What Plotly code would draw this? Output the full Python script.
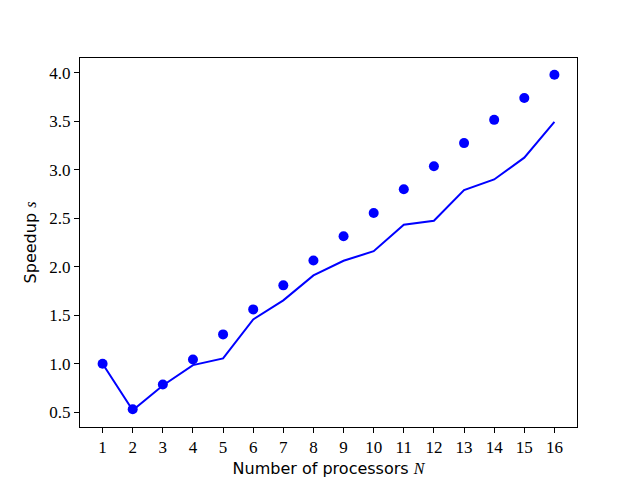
import plotly.graph_objects as go

processors = list(range(1, 17))
ideal_speedup = [1.0, 0.53, 0.786, 1.044, 1.302, 1.56, 1.808, 2.065, 2.314, 2.554,
                 2.80, 3.037, 3.275, 3.515, 3.74, 3.98]
measured_speedup = [1.0, 0.52, 0.775, 0.985, 1.054, 1.457, 1.653, 1.91, 2.062, 2.16,
                    2.434, 2.475, 2.79, 2.90, 3.125, 3.494]
y_ticks = [0.5, 1.0, 1.5, 2.0, 2.5, 3.0, 3.5, 4.0]

serif = "Liberation Serif, DejaVu Serif, serif"
sans = "DejaVu Sans, Liberation Sans, sans-serif"

fig = go.Figure()
fig.add_trace(go.Scatter(x=processors, y=measured_speedup, mode="lines",
                         line=dict(color="#0000ff", width=2), showlegend=False))
fig.add_trace(go.Scatter(x=processors, y=ideal_speedup, mode="markers",
                         marker=dict(color="#0000ff", size=10), showlegend=False))

axis_common = dict(showline=True, linecolor="black", linewidth=1, mirror=True,
                   ticks="outside", ticklen=5, tickcolor="black", tickwidth=1,
                   showgrid=False, zeroline=False, automargin=False,
                   tickfont=dict(family=serif, size=17, color="black"))

# page body has an 8px default margin, so the figure is sized/shifted to compensate
fig.update_layout(
    width=632, height=472,
    margin=dict(l=72, r=63, t=50, b=53),
    plot_bgcolor="white", paper_bgcolor="white",
    xaxis=dict(range=[0.25, 16.75], tickvals=processors, ticktext=[str(p) for p in processors],
               title=dict(text="Number of processors <span style='font-family:Liberation Serif'><i>N</i></span>",
                          font=dict(family=sans, size=16, color="black"), standoff=6),
               **axis_common),
    yaxis=dict(range=[0.347, 4.153], tickvals=y_ticks, ticktext=[f"{v:.1f}" for v in y_ticks],
               title=dict(text="Speedup <span style='font-family:Liberation Serif'><i>s</i></span>",
                          font=dict(family=sans, size=16, color="black"), standoff=8),
               **axis_common),
)

fig.write_html("out.html")
